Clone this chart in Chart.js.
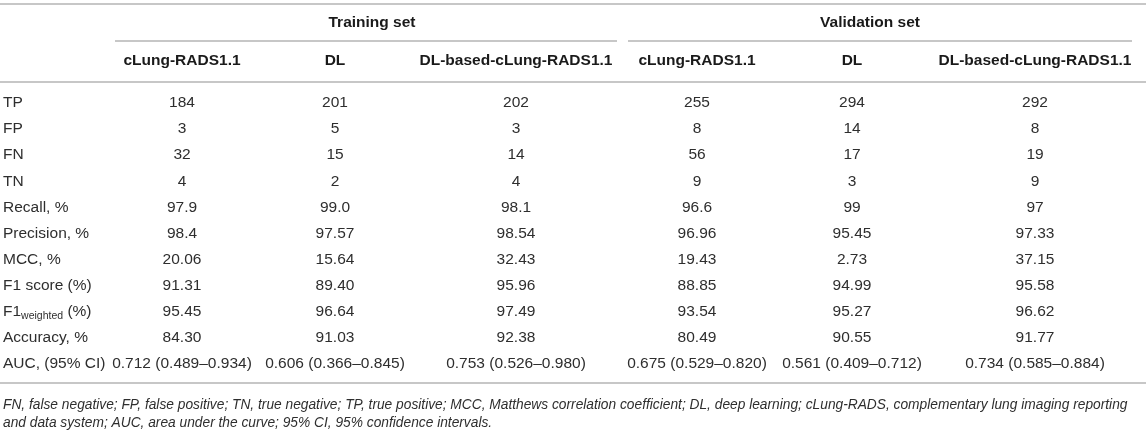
<!DOCTYPE html>
<html>
<head>
<meta charset="utf-8">
<script src="https://cdn.jsdelivr.net/npm/chart.js@4.4.1/dist/chart.umd.min.js"></script>
<style>
  html, body { margin: 0; padding: 0; background: #ffffff; }
  #c { display: block; }
</style>
</head>
<body>
<canvas id="c" width="1146" height="439"></canvas>
<script>
// ---------------- DATA ----------------
const groups = ['Training set', 'Validation set'];
const methods = ['cLung-RADS1.1', 'DL', 'DL-based-cLung-RADS1.1'];
const metrics = ['TP', 'FP', 'FN', 'TN', 'Recall, %', 'Precision, %', 'MCC, %',
  'F1 score (%)', 'F1<sub>weighted</sub> (%)', 'Accuracy, %', 'AUC, (95% CI)'];

const trainCLung = ['184', '3', '32', '4', '97.9', '98.4', '20.06', '91.31', '95.45', '84.30', '0.712 (0.489–0.934)'];
const trainDL    = ['201', '5', '15', '2', '99.0', '97.57', '15.64', '89.40', '96.64', '91.03', '0.606 (0.366–0.845)'];
const trainDLC   = ['202', '3', '14', '4', '98.1', '98.54', '32.43', '95.96', '97.49', '92.38', '0.753 (0.526–0.980)'];
const valCLung   = ['255', '8', '56', '9', '96.6', '96.96', '19.43', '88.85', '93.54', '80.49', '0.675 (0.529–0.820)'];
const valDL      = ['294', '14', '17', '3', '99', '95.45', '2.73', '94.99', '95.27', '90.55', '0.561 (0.409–0.712)'];
const valDLC     = ['292', '8', '19', '9', '97', '97.33', '37.15', '95.58', '96.62', '91.77', '0.734 (0.585–0.884)'];

const footnotes = [
  'FN, false negative; FP, false positive; TN, true negative; TP, true positive; MCC, Matthews correlation coefficient; DL, deep learning; cLung-RADS, complementary lung imaging reporting',
  'and data system; AUC, area under the curve; 95% CI, 95% confidence intervals.'
];

// ---------------- LAYOUT / STYLE ----------------
const W = 1146, H = 439;
const LAYOUT = {
  labelX: 3,
  colX: [182, 335, 516, 697, 852, 1035],      // column centres (axis units)
  groupX: [372, 870],                          // group header centres
  groupSpan: [[115, 617], [628, 1132]],
  topRuleY: 4, groupY: 23, underlineY: 41, headerY: 61, headerRuleY: 82,
  firstRowY: 103, rowH: 26.1, bottomRuleY: 383,
  footY0: 405, footLineH: 18.5
};
const STYLE = {
  family: '"Liberation Sans", Arial, Helvetica, sans-serif',
  bodySize: 15.5, headSize: 15.5, subSize: 10.5, footSize: 13.75,
  text: '#2e2e2e', head: '#1a1a1a', rule: '#b4b4b4', ruleW: 1.5
};

const seriesCols = [trainCLung, trainDL, trainDLC, valCLung, valDL, valDLC];
const rowY = i => LAYOUT.firstRowY + i * LAYOUT.rowH;

function textDataset(points, texts, opts) {
  return Object.assign({
    data: points, texts: texts, pointRadius: 0, pointHoverRadius: 0,
    showLine: false, align: 'center', weight: 'normal', italic: false,
    size: STYLE.bodySize, color: STYLE.text
  }, opts);
}

const datasets = [];
// row labels
datasets.push(textDataset(metrics.map((m, i) => ({ x: LAYOUT.labelX, y: rowY(i) })), metrics, { align: 'left' }));
// data columns
seriesCols.forEach((col, j) => {
  datasets.push(textDataset(col.map((v, i) => ({ x: LAYOUT.colX[j], y: rowY(i) })), col, {}));
});
// column headers
const headerTexts = groups.flatMap(() => methods);
datasets.push(textDataset(headerTexts.map((t, j) => ({ x: LAYOUT.colX[j], y: LAYOUT.headerY })), headerTexts,
  { weight: 'bold', size: STYLE.headSize, color: STYLE.head }));
// group headers
datasets.push(textDataset(groups.map((g, k) => ({ x: LAYOUT.groupX[k], y: LAYOUT.groupY })), groups,
  { weight: 'bold', size: STYLE.headSize, color: STYLE.head }));
// footnotes
datasets.push(textDataset(footnotes.map((f, i) => ({ x: LAYOUT.labelX, y: LAYOUT.footY0 + i * LAYOUT.footLineH })), footnotes,
  { align: 'left', italic: true, size: STYLE.footSize, color: STYLE.text }));

const RULES = [
  { x0: 0, x1: W, y: LAYOUT.topRuleY },
  { x0: LAYOUT.groupSpan[0][0], x1: LAYOUT.groupSpan[0][1], y: LAYOUT.underlineY },
  { x0: LAYOUT.groupSpan[1][0], x1: LAYOUT.groupSpan[1][1], y: LAYOUT.underlineY },
  { x0: 0, x1: W, y: LAYOUT.headerRuleY },
  { x0: 0, x1: W, y: LAYOUT.bottomRuleY }
];

function fontStr(ds, size) {
  return (ds.italic ? 'italic ' : '') + (ds.weight === 'bold' ? 'bold ' : '') + size + 'px ' + STYLE.family;
}

const tablePlugin = {
  id: 'tablePlugin',
  afterDatasetsDraw(chart) {
    const ctx = chart.ctx;
    const xs = chart.scales.x, ys = chart.scales.y;
    ctx.save();
    ctx.strokeStyle = STYLE.rule;
    ctx.lineWidth = STYLE.ruleW;
    RULES.forEach(r => {
      const y = ys.getPixelForValue(r.y);
      ctx.beginPath();
      ctx.moveTo(xs.getPixelForValue(r.x0), y);
      ctx.lineTo(xs.getPixelForValue(r.x1), y);
      ctx.stroke();
    });
    chart.data.datasets.forEach((ds, di) => {
      const meta = chart.getDatasetMeta(di);
      meta.data.forEach((el, i) => {
        const raw = ds.texts[i];
        ctx.fillStyle = ds.color;
        ctx.textBaseline = 'middle';
        const m = raw.match(/^(.*)<sub>(.*)<\/sub>(.*)$/);
        if (m) {
          const parts = [[m[1], ds.size, 0], [m[2], STYLE.subSize, 4], [m[3], ds.size, 0]];
          let total = 0;
          parts.forEach(p => { ctx.font = fontStr(ds, p[1]); total += ctx.measureText(p[0]).width; });
          let x = ds.align === 'left' ? el.x : el.x - total / 2;
          ctx.textAlign = 'left';
          parts.forEach(p => {
            ctx.font = fontStr(ds, p[1]);
            ctx.fillText(p[0], x, el.y + p[2]);
            x += ctx.measureText(p[0]).width;
          });
        } else {
          ctx.font = fontStr(ds, ds.size);
          ctx.textAlign = ds.align;
          ctx.fillText(raw, el.x, el.y);
        }
      });
    });
    ctx.restore();
  }
};

new Chart(document.getElementById('c'), {
  type: 'scatter',
  data: { datasets: datasets },
  options: {
    responsive: false,
    animation: false,
    events: [],
    layout: { padding: 0 },
    plugins: { legend: { display: false }, tooltip: { enabled: false } },
    scales: {
      x: { type: 'linear', min: 0, max: W, display: false },
      y: { type: 'linear', min: 0, max: H, reverse: true, display: false }
    }
  },
  plugins: [tablePlugin]
});
</script>
</body>
</html>
